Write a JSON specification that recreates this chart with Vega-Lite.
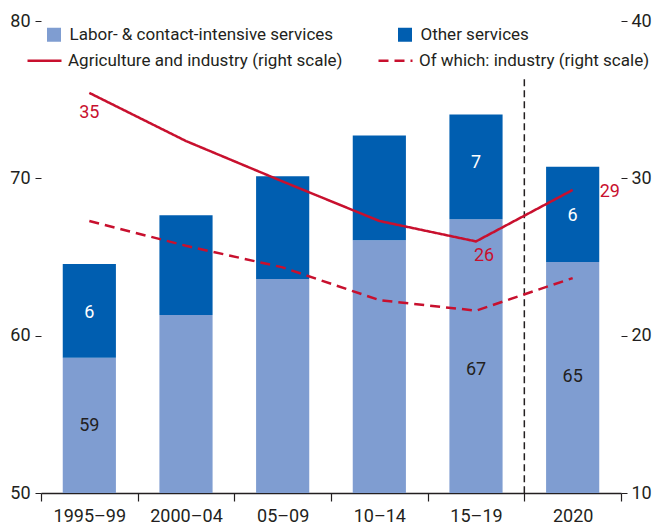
{
  "$schema": "https://vega.github.io/schema/vega-lite/v6.json",
  "width": 580,
  "height": 472,
  "autosize": {"type": "none"},
  "padding": {"left": 41, "top": 21, "right": 34, "bottom": 34},
  "config": {
    "font": "Roboto",
    "view": {"stroke": null},
    "axis": {"labelFontSize": 18, "labelColor": "#231F20", "tickColor": "#231F20", "domainColor": "#231F20", "grid": false, "title": null, "labelFont": "Roboto"},
    "legend": {"labelFont": "Roboto"},
    "text": {"font": "Roboto"}
  },
  "datasets": {
    "bars": [
      {"period": "1995–99", "category": "Labor- & contact-intensive services", "share": 58.59},
      {"period": "1995–99", "category": "Other services", "share": 5.96},
      {"period": "2000–04", "category": "Labor- & contact-intensive services", "share": 61.31},
      {"period": "2000–04", "category": "Other services", "share": 6.34},
      {"period": "05–09", "category": "Labor- & contact-intensive services", "share": 63.6},
      {"period": "05–09", "category": "Other services", "share": 6.53},
      {"period": "10–14", "category": "Labor- & contact-intensive services", "share": 66.07},
      {"period": "10–14", "category": "Other services", "share": 6.66},
      {"period": "15–19", "category": "Labor- & contact-intensive services", "share": 67.4},
      {"period": "15–19", "category": "Other services", "share": 6.66},
      {"period": "2020", "category": "Labor- & contact-intensive services", "share": 64.69},
      {"period": "2020", "category": "Other services", "share": 6.05}
    ],
    "lines": [
      {"period": "1995–99", "series": "Agriculture and industry (right scale)", "value": 35.43},
      {"period": "2000–04", "series": "Agriculture and industry (right scale)", "value": 32.37},
      {"period": "05–09", "series": "Agriculture and industry (right scale)", "value": 29.8},
      {"period": "10–14", "series": "Agriculture and industry (right scale)", "value": 27.29},
      {"period": "15–19", "series": "Agriculture and industry (right scale)", "value": 25.99},
      {"period": "2020", "series": "Agriculture and industry (right scale)", "value": 29.26},
      {"period": "1995–99", "series": "Of which: industry (right scale)", "value": 27.29},
      {"period": "2000–04", "series": "Of which: industry (right scale)", "value": 25.71},
      {"period": "05–09", "series": "Of which: industry (right scale)", "value": 24.34},
      {"period": "10–14", "series": "Of which: industry (right scale)", "value": 22.26},
      {"period": "15–19", "series": "Of which: industry (right scale)", "value": 21.59},
      {"period": "2020", "series": "Of which: industry (right scale)", "value": 23.66}
    ]
  },
  "encoding": {
    "x": {"field": "period", "type": "nominal", "scale": {"domain": ["1995–99", "2000–04", "05–09", "10–14", "15–19", "2020"], "paddingInner": 0, "paddingOuter": 0}, "axis": {"title": null, "labelAngle": 0, "tickBand": "extent", "tickSize": 8, "domainWidth": 1.5, "tickWidth": 1.2, "labelPadding": 6}}
  },
  "layer": [
    {
      "data": {"name": "bars"},
      "layer": [
        {
          "mark": {"type": "bar", "clip": true, "width": {"band": 0.55}},
          "encoding": {
            "y": {"field": "share", "type": "quantitative", "stack": "zero", "scale": {"domain": [50, 80]}, "axis": {"orient": "left", "values": [50, 60, 70, 80], "domain": false, "tickSize": 6, "labelPadding": 5, "title": null}},
            "order": {"field": "category", "sort": "ascending"},
            "color": {"field": "category", "type": "nominal", "scale": {"domain": ["Labor- & contact-intensive services", "Other services"], "range": ["#7F9DD1", "#005EB0"]},
              "legend": {"title": null, "orient": "none", "legendX": 4.5, "legendY": 5, "direction": "horizontal", "columns": 2, "symbolType": "square", "symbolSize": 196, "symbolStrokeWidth": 0, "labelFontSize": 17, "labelColor": "#231F20", "labelOffset": 7, "columnPadding": 63, "padding": 0, "labelLimit": 400}}
          }
        },
        {
          "data": {"values": [{}]},
          "mark": {"type": "rule", "strokeDash": [7, 4], "strokeWidth": 1.5, "color": "#231F20"},
          "encoding": {
            "x": {"datum": "2020", "bandPosition": 0},
            "y": {"datum": 76.3},
            "y2": {"datum": 50}
          }
        },
        {
          "mark": {"type": "text", "dy": 49, "fontSize": 18, "fill": "white", "baseline": "middle"},
          "encoding": {
            "y": {"field": "share", "type": "quantitative", "stack": "zero"},
            "detail": {"field": "category"},
            "order": {"field": "category", "sort": "ascending"},
            "text": {"condition": {"test": "datum.category === 'Other services' && indexof(['1995–99','15–19','2020'], datum.period) >= 0", "field": "share", "format": ".0f"}, "value": ""}
          }
        },
        {
          "transform": [{"filter": "datum.category === 'Labor- & contact-intensive services' && datum.period === '1995–99'"}],
          "mark": {"type": "text", "dy": 68, "fontSize": 18, "fill": "#231F20", "baseline": "middle"},
          "encoding": {
            "y": {"field": "share", "type": "quantitative", "stack": null},
            "text": {"field": "share", "format": ".0f"}
          }
        },
        {
          "transform": [{"filter": "datum.category === 'Labor- & contact-intensive services' && datum.period === '15–19'"}],
          "mark": {"type": "text", "dy": 151, "fontSize": 18, "fill": "#231F20", "baseline": "middle"},
          "encoding": {
            "y": {"field": "share", "type": "quantitative", "stack": null},
            "text": {"field": "share", "format": ".0f"}
          }
        },
        {
          "transform": [{"filter": "datum.category === 'Labor- & contact-intensive services' && datum.period === '2020'"}],
          "mark": {"type": "text", "dy": 115, "fontSize": 18, "fill": "#231F20", "baseline": "middle"},
          "encoding": {
            "y": {"field": "share", "type": "quantitative", "stack": null},
            "text": {"field": "share", "format": ".0f"}
          }
        }
      ]
    },
    {
      "data": {"name": "lines"},
      "layer": [
        {
          "mark": {"type": "line", "color": "#C8102E", "strokeWidth": 2.5},
          "encoding": {
            "y": {"field": "value", "type": "quantitative", "scale": {"domain": [10, 40]}, "axis": {"orient": "right", "values": [10, 20, 30, 40], "domain": false, "tickSize": 6, "labelPadding": 4, "title": null}},
            "strokeDash": {"field": "series", "type": "nominal", "scale": {"domain": ["Agriculture and industry (right scale)", "Of which: industry (right scale)"], "range": [[1, 0], [10, 6]]},
              "legend": {"title": null, "orient": "none", "legendX": -15, "legendY": 21, "direction": "horizontal", "columns": 2, "symbolType": "stroke", "symbolSize": 1156, "symbolStrokeColor": "#C8102E", "symbolStrokeWidth": 2.5, "labelFontSize": 17, "labelColor": "#231F20", "labelOffset": 5, "columnPadding": 30, "padding": 0, "labelLimit": 400}}
          }
        },
        {
          "transform": [{"filter": "datum.series === 'Agriculture and industry (right scale)' && datum.period === '1995–99'"}],
          "mark": {"type": "text", "dy": 20, "fontSize": 18, "fill": "#C8102E", "baseline": "middle"},
          "encoding": {
            "y": {"field": "value", "type": "quantitative"},
            "text": {"field": "value", "format": ".0f"}
          }
        },
        {
          "transform": [{"filter": "datum.series === 'Agriculture and industry (right scale)' && datum.period === '15–19'"}],
          "mark": {"type": "text", "dx": 8, "dy": 15, "fontSize": 18, "fill": "#C8102E", "baseline": "middle"},
          "encoding": {
            "y": {"field": "value", "type": "quantitative"},
            "text": {"field": "value", "format": ".0f"}
          }
        },
        {
          "transform": [{"filter": "datum.series === 'Agriculture and industry (right scale)' && datum.period === '2020'"}],
          "mark": {"type": "text", "dx": 27, "dy": 2, "align": "left", "fontSize": 18, "fill": "#C8102E", "baseline": "middle"},
          "encoding": {
            "y": {"field": "value", "type": "quantitative"},
            "text": {"field": "value", "format": ".0f"}
          }
        }
      ]
    }
  ],
  "resolve": {"scale": {"y": "independent"}}
}
